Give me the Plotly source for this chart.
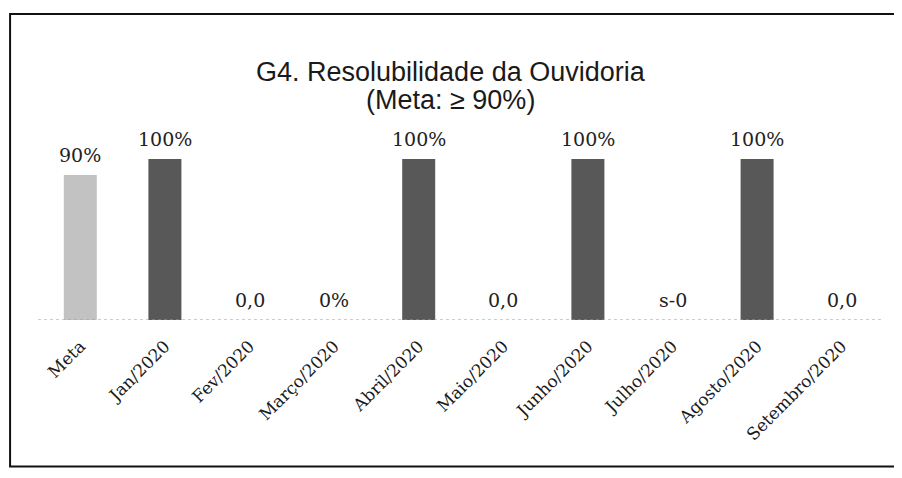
import plotly.graph_objects as go

# dados do gráfico
categorias = ['Meta', 'Jan/2020', 'Fev/2020', 'Março/2020', 'Abril/2020', 'Maio/2020',
              'Junho/2020', 'Julho/2020', 'Agosto/2020', 'Setembro/2020']
valores = [90, 100, 0, 0, 100, 0, 100, 0, 100, 0]
rotulos = ['90%', '100%', '0,0', '0%', '100%', '0,0', '100%', 's-0', '100%', '0,0']
titulo = 'G4. Resolubilidade da Ouvidoria'
subtitulo = '(Meta: ≥ 90%)'

corMeta = '#c2c2c2'
corMes = '#585858'
cores = [corMeta] + [corMes] * (len(categorias) - 1)

fig = go.Figure(go.Bar(
    x=categorias,
    y=valores,
    width=0.39,
    marker=dict(color=cores, line=dict(width=0)),
))

# rótulos de dados acima de cada barra
for cat, val, rot in zip(categorias, valores, rotulos):
    fig.add_annotation(x=cat, y=val, text=rot, showarrow=False,
                       yanchor='middle', yshift=20,
                       font=dict(family='DejaVu Serif', size=19, color='#222222'))

# título em duas linhas
fig.add_annotation(xref='paper', yref='paper', x=0.488, y=1.54, text=titulo,
                   showarrow=False, yanchor='middle',
                   font=dict(family='Liberation Sans', size=27, color='#1a1a1a'))
fig.add_annotation(xref='paper', yref='paper', x=0.488, y=1.366, text=subtitulo,
                   showarrow=False, yanchor='middle',
                   font=dict(family='Liberation Sans', size=27, color='#1a1a1a'))

fig.update_layout(
    width=902, height=478,
    margin=dict(l=30, r=26, t=151, b=166),
    paper_bgcolor='white', plot_bgcolor='white',
    showlegend=False,
    xaxis=dict(
        tickangle=-45,
        tickfont=dict(family='DejaVu Serif', size=17, color='#1a1a1a'),
        showgrid=False, showline=False, zeroline=False,
        ticklabelstandoff=12,
    ),
    yaxis=dict(range=[0, 100], visible=False),
    shapes=[
        # linha de base pontilhada
        dict(type='line', xref='paper', yref='y', x0=0, x1=1, y0=0, y1=0,
             line=dict(color='#9a9a9a', width=1, dash='dot')),
        # moldura da figura
        dict(type='rect', xref='paper', yref='paper',
             x0=-0.033, x1=1.06, y0=-0.91, y1=1.90,
             line=dict(color='#111111', width=2)),
    ],
)

fig.write_html('out.html')
